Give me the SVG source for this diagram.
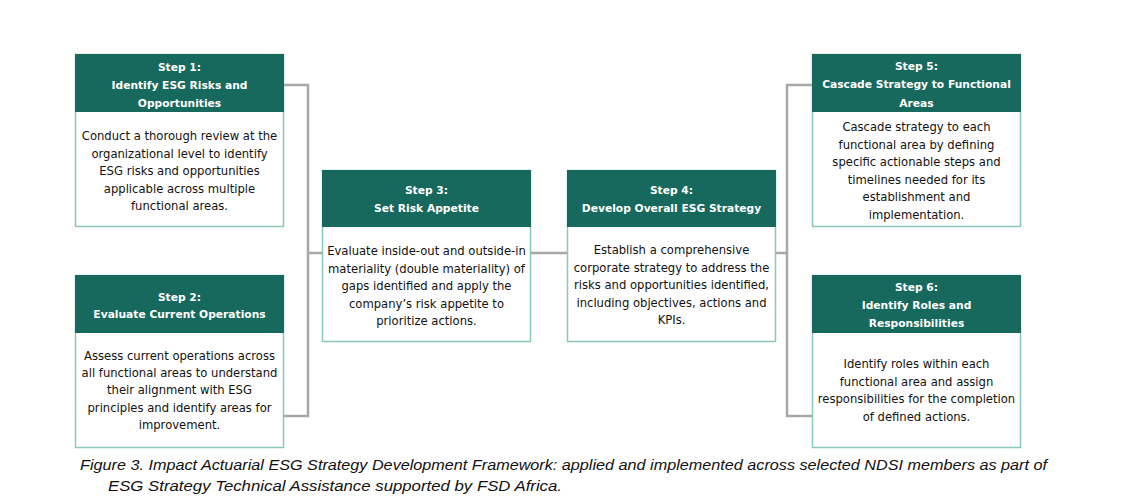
<svg xmlns="http://www.w3.org/2000/svg" width="1126" height="502" viewBox="0 0 1126 502">
<style>
.box{fill:#fff;stroke:#8cc7bd;stroke-width:1.5}
.hdr{fill:#16695c}
.ht{font-family:"DejaVu Sans",Verdana,sans-serif;font-weight:bold;font-size:10.7px;fill:#fff;text-anchor:middle}
.bt{font-family:"DejaVu Sans",Verdana,sans-serif;font-size:11.6px;fill:#111;text-anchor:middle}
.con{fill:none;stroke:#a8a8a8;stroke-width:2.5}
.cap{font-family:"Liberation Sans",Arial,sans-serif;font-style:italic;font-size:14px;fill:#111}
</style>
<rect width="1126" height="502" fill="#fff"/>
<g id="connectors">
<polyline class="con" points="284,85 308,85 308,416 284,416"/>
<line class="con" x1="308" y1="253" x2="322" y2="253"/>
<line class="con" x1="530" y1="253" x2="567" y2="253"/>
<line class="con" x1="775" y1="253" x2="787" y2="253"/>
<polyline class="con" points="812,85 787,85 787,416 812,416"/>
</g>
<g id="step1">
<rect class="box" x="75.5" y="54.5" width="208" height="172"/>
<rect class="hdr" x="75" y="54" width="209" height="58"/>
<text class="ht" x="179.5" y="71">Step 1:</text>
<text class="ht" x="179.5" y="89">Identify ESG Risks and</text>
<text class="ht" x="179.5" y="107">Opportunities</text>
<text class="bt" x="179.5" y="140">Conduct a thorough review at the</text>
<text class="bt" x="179.5" y="157.5">organizational level to identify</text>
<text class="bt" x="179.5" y="175">ESG risks and opportunities</text>
<text class="bt" x="179.5" y="192.5">applicable across multiple</text>
<text class="bt" x="179.5" y="210">functional areas.</text>
</g>
<g id="step2">
<rect class="box" x="75.5" y="275.5" width="208" height="172"/>
<rect class="hdr" x="75" y="275" width="209" height="58"/>
<text class="ht" x="179.5" y="301">Step 2:</text>
<text class="ht" x="179.5" y="318">Evaluate Current Operations</text>
<text class="bt" x="179.5" y="360">Assess current operations across</text>
<text class="bt" x="179.5" y="377">all functional areas to understand</text>
<text class="bt" x="179.5" y="394">their alignment with ESG</text>
<text class="bt" x="179.5" y="411.5">principles and identify areas for</text>
<text class="bt" x="179.5" y="429">improvement.</text>
</g>
<g id="step3">
<rect class="box" x="322.5" y="170.5" width="208" height="171"/>
<rect class="hdr" x="322" y="170" width="209" height="57"/>
<text class="ht" x="426.5" y="194">Step 3:</text>
<text class="ht" x="426.5" y="212">Set Risk Appetite</text>
<text class="bt" x="426.5" y="255">Evaluate inside-out and outside-in</text>
<text class="bt" x="426.5" y="272.5">materiality (double materiality) of</text>
<text class="bt" x="426.5" y="290">gaps identified and apply the</text>
<text class="bt" x="426.5" y="307.5">company’s risk appetite to</text>
<text class="bt" x="426.5" y="325">prioritize actions.</text>
</g>
<g id="step4">
<rect class="box" x="567.5" y="170.5" width="208" height="171"/>
<rect class="hdr" x="567" y="170" width="209" height="57"/>
<text class="ht" x="671.5" y="194">Step 4:</text>
<text class="ht" x="671.5" y="212">Develop Overall ESG Strategy</text>
<text class="bt" x="671.5" y="254">Establish a comprehensive</text>
<text class="bt" x="671.5" y="271.5">corporate strategy to address the</text>
<text class="bt" x="671.5" y="289">risks and opportunities identified,</text>
<text class="bt" x="671.5" y="306.5">including objectives, actions and</text>
<text class="bt" x="671.5" y="324">KPIs.</text>
</g>
<g id="step5">
<rect class="box" x="812.5" y="54.5" width="208" height="172"/>
<rect class="hdr" x="812" y="54" width="209" height="58"/>
<text class="ht" x="916.5" y="70">Step 5:</text>
<text class="ht" x="916.5" y="88">Cascade Strategy to Functional</text>
<text class="ht" x="916.5" y="107">Areas</text>
<text class="bt" x="916.5" y="131">Cascade strategy to each</text>
<text class="bt" x="916.5" y="148.5">functional area by defining</text>
<text class="bt" x="916.5" y="166">specific actionable steps and</text>
<text class="bt" x="916.5" y="183.5">timelines needed for its</text>
<text class="bt" x="916.5" y="201">establishment and</text>
<text class="bt" x="916.5" y="218.5">implementation.</text>
</g>
<g id="step6">
<rect class="box" x="812.5" y="275.5" width="208" height="172"/>
<rect class="hdr" x="812" y="275" width="209" height="58"/>
<text class="ht" x="916.5" y="291">Step 6:</text>
<text class="ht" x="916.5" y="309">Identify Roles and</text>
<text class="ht" x="916.5" y="327">Responsibilities</text>
<text class="bt" x="916.5" y="368">Identify roles within each</text>
<text class="bt" x="916.5" y="385.5">functional area and assign</text>
<text class="bt" x="916.5" y="403">responsibilities for the completion</text>
<text class="bt" x="916.5" y="420.5">of defined actions.</text>
</g>
<g id="caption">
<text class="cap" x="80" y="470" textLength="967" lengthAdjust="spacingAndGlyphs">Figure 3. Impact Actuarial ESG Strategy Development Framework: applied and implemented across selected NDSI members as part of</text>
<text class="cap" x="108" y="491" textLength="454" lengthAdjust="spacingAndGlyphs">ESG Strategy Technical Assistance supported by FSD Africa.</text>
</g>
</svg>
